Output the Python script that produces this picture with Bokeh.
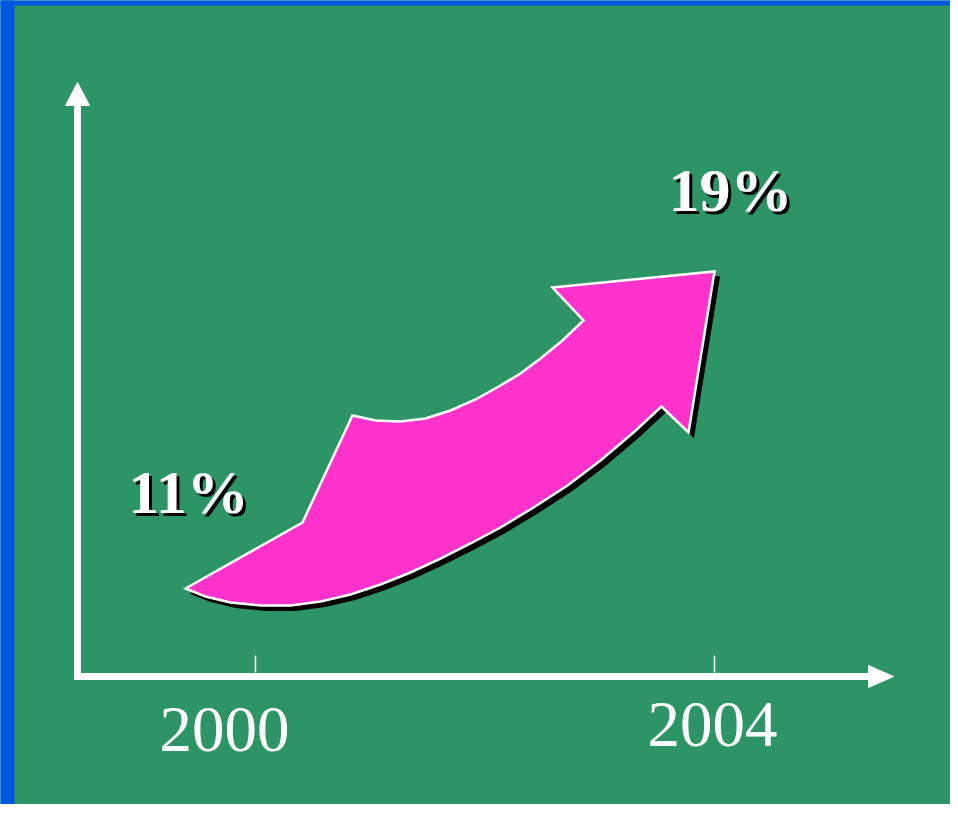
from bokeh.plotting import figure
from bokeh.models import Range1d
from bokeh.core.properties import value
from bokeh.embed import file_html
from bokeh.resources import INLINE

# ---- data ----
years = [2000, 2004]
growth = [11, 19]
year_labels = [str(y) for y in years]
growth_labels = [f"{g}%" for g in growth]

# ---- layout (pixels) ----
W, H = 950, 804
PAGE = 0
PX_YEAR = 114.75      # pixels per year
PX_PCT = 39.625       # pixels per percentage point
ORIGIN_SX, ORIGIN_SY = 255.0, 588.0   # picture position of (years[0], growth[0])
TEXT_SHIFT = 24       # baseline correction for the text glyphs


def dx(sx):
    return years[0] + (sx - ORIGIN_SX) / PX_YEAR


def dy(sy):
    return growth[0] - (sy - ORIGIN_SY) / PX_PCT


def ox(px):
    return px / PX_YEAR


def oy(px):
    return px / PX_PCT


# curved arrow outline, in a unit frame from (years[0], growth[0]) to (years[1], growth[1])
ARROW_U = [-0.1525, 0.1024, 0.2113, 0.2614, 0.3159, 0.3704, 0.4248, 0.4793, 0.5338, 0.5773,
           0.6209, 0.6688, 0.7146, 0.6471, 1.0, 0.9434, 0.8845, 0.8235, 0.7516, 0.6797,
           0.6057, 0.5338, 0.4684, 0.4031, 0.3377, 0.2723, 0.2070, 0.1416, 0.0763, 0.0109,
           -0.0545, -0.1089]
ARROW_V = [0.0, 0.2082, 0.5457, 0.5300, 0.5268, 0.5363, 0.5615, 0.5962, 0.6404, 0.6782,
           0.7256, 0.7823, 0.8454, 0.9495, 1.0, 0.4921, 0.5741, 0.4921, 0.4038, 0.3249,
           0.2555, 0.1924, 0.1420, 0.0946, 0.0505, 0.0126, -0.0189, -0.0410, -0.0536, -0.0536,
           -0.0442, -0.0252]

BG = "#2d9466"
FRAME = "#0058e0"
PINK = "#ff33cc"
SERIF = value("Liberation Serif")

p = figure(width=W, height=H, output_backend="svg", toolbar_location=None,
           x_range=Range1d(dx(PAGE), dx(PAGE + W)),
           y_range=Range1d(dy(PAGE + H), dy(PAGE)),
           x_axis_type=None, y_axis_type=None, min_border=0)
p.background_fill_color = BG
p.border_fill_color = BG
p.outline_line_color = None
p.grid.visible = False

# blue slide frame
p.quad(left=dx(-5), right=dx(14), bottom=dy(830), top=dy(-5), fill_color=FRAME, line_color=None)
p.quad(left=dx(-5), right=dx(965), bottom=dy(5), top=dy(-5), fill_color=FRAME, line_color=None)
p.quad(left=dx(953), right=dx(965), bottom=dy(830), top=dy(-5), fill_color=FRAME, line_color=None)

# axes with arrow heads
ax_x, ax_y = dx(77), dy(676)
p.segment(x0=[ax_x], y0=[ax_y - oy(3)], x1=[ax_x], y1=[dy(100)], line_color="white", line_width=7)
p.segment(x0=[ax_x - ox(3)], y0=[ax_y], x1=[dx(870)], y1=[ax_y], line_color="white", line_width=7)
p.patch(x=[ax_x, ax_x - ox(12), ax_x + ox(12)], y=[dy(82), dy(105), dy(105)],
        fill_color="white", line_color="white", line_width=1)
p.patch(x=[dx(893), dx(868), dx(868)], y=[ax_y, ax_y + oy(11), ax_y - oy(11)],
        fill_color="white", line_color="white", line_width=1)

# tick marks at the years
p.segment(x0=years, y0=[ax_y + oy(4)] * len(years), x1=years, y1=[ax_y + oy(21)] * len(years),
          line_color="white", line_width=1.5)

# year labels
year_dx = [-31, -2]
year_dy = [77 - TEXT_SHIFT, 72 - TEXT_SHIFT]
p.text(x=[y + ox(d) for y, d in zip(years, year_dx)],
       y=[ax_y - oy(d) for d in year_dy],
       text=year_labels, text_color="white", text_font=SERIF, text_font_size="65px",
       text_align="center", text_baseline="alphabetic")

# curved growth arrow
span_x = years[1] - years[0]
span_y = growth[1] - growth[0]
arr_x = [years[0] + u * span_x for u in ARROW_U]
arr_y = [growth[0] + v * span_y for v in ARROW_V]
p.patch(x=[x + ox(5) for x in arr_x], y=[y - oy(5) for y in arr_y],
        fill_color="black", line_color="black", line_width=1)
p.patch(x=arr_x, y=arr_y, fill_color=PINK, line_color="white", line_width=2.5,
        line_join="miter")

# value labels with drop shadow
lab_dx = [-67, 16]
lab_dy = [-73 - TEXT_SHIFT, -58 - TEXT_SHIFT]
lx = [y + ox(d) for y, d in zip(years, lab_dx)]
ly = [g - oy(d) for g, d in zip(growth, lab_dy)]
p.text(x=[x + ox(3) for x in lx], y=[y - oy(3) for y in ly], text=growth_labels,
       text_color="black", text_font=SERIF, text_font_style="bold", text_font_size="62px",
       text_align="center", text_baseline="alphabetic")
p.text(x=lx, y=ly, text=growth_labels,
       text_color="white", text_font=SERIF, text_font_style="bold", text_font_size="62px",
       text_align="center", text_baseline="alphabetic")

open("out.html", "w").write(file_html(p, INLINE))
